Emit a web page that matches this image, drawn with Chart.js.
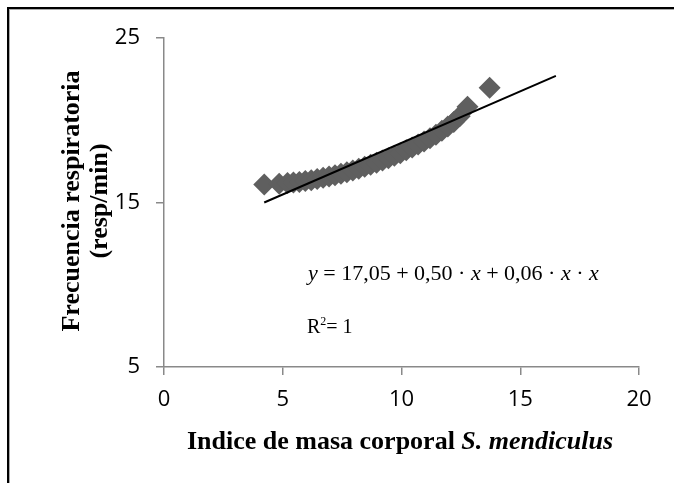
<!DOCTYPE html>
<html><head><meta charset="utf-8">
<script src="https://cdn.jsdelivr.net/npm/chart.js@4"></script>
<style>
html,body{margin:0;padding:0;background:#fff;}
#wrap{position:relative;width:674px;height:483px;overflow:hidden;}
#frame{position:absolute;left:7px;top:7px;width:700px;height:520px;border-top:2px solid #000;border-left:2px solid #000;box-shadow:1px 1px 0 #aaa inset;}
canvas{position:absolute;left:0;top:0;}
</style></head><body>
<div id="wrap"><canvas id="c" width="674" height="483"></canvas><div id="frame"></div></div>
<script>
// Data
const imcValues = [4.22, 4.85, 5.20, 5.45, 5.70, 5.95, 6.20, 6.45, 6.70, 6.95, 7.20, 7.45, 7.70, 7.95, 8.20, 8.45, 8.70, 8.95, 9.20, 9.45, 9.70, 9.95, 10.20, 10.45, 10.70, 10.95, 11.20, 11.45, 11.70, 11.95, 12.20, 12.45, 12.78, 13.71];
const frValues  = [16.09, 16.14, 16.18, 16.21, 16.25, 16.30, 16.36, 16.43, 16.50, 16.58, 16.66, 16.75, 16.84, 16.94, 17.05, 17.17, 17.29, 17.42, 17.55, 17.69, 17.84, 18.00, 18.17, 18.34, 18.52, 18.71, 18.91, 19.12, 19.36, 19.62, 19.90, 20.25, 20.82, 21.97];
const trendX = [4.22, 16.5];
const trendY = [15.0, 22.7];
const xTickValues = [0, 5, 10, 15, 20];
const yTickValues = [5, 15, 25];
const yTitleLines = ["Frecuencia respiratoria", "(resp/min)"];
const xTitleMain = "Indice de masa corporal ";
const xTitleItalic = "S. mendiculus";
const equationParts = [["y", true], [" = 17,05 + 0,50 · ", false], ["x", true], [" + 0,06 · ", false], ["x", true], [" · ", false], ["x", true]];
const r2Text = ["R", "2", "= 1"];

const axisGray = '#898989';
const textPlugin = {
  id: 'texts',
  afterDraw(chart) {
    const ctx = chart.ctx;
    ctx.save();
    ctx.fillStyle = '#000';
    // Y title
    ctx.font = 'bold 26px "Liberation Serif"';
    ctx.textAlign = 'center';
    ctx.textBaseline = 'middle';
    const yx = [72, 100];
    yTitleLines.forEach((t, i) => {
      ctx.save();
      ctx.translate(yx[i], 201);
      ctx.rotate(-Math.PI / 2);
      ctx.fillText(t, 0, 0);
      ctx.restore();
    });
    // X title (mixed style)
    ctx.textAlign = 'left';
    ctx.textBaseline = 'alphabetic';
    const f1 = 'bold 26px "Liberation Serif"', f2 = 'italic bold 26px "Liberation Serif"';
    ctx.font = f1; const w1 = ctx.measureText(xTitleMain).width;
    ctx.font = f2; const w2 = ctx.measureText(xTitleItalic).width;
    let sx = 400 - (w1 + w2) / 2;
    ctx.font = f1; ctx.fillText(xTitleMain, sx, 449);
    ctx.font = f2; ctx.fillText(xTitleItalic, sx + w1, 449);
    // Equation
    const fe = '22px "Liberation Serif"', fei = 'italic 22px "Liberation Serif"';
    let ex = 308;
    equationParts.forEach(([t, it]) => {
      ctx.font = it ? fei : fe;
      ctx.fillText(t, ex, 280);
      ex += ctx.measureText(t).width;
    });
    // R^2
    ctx.font = '20px "Liberation Serif"';
    let rx = 307;
    ctx.fillText(r2Text[0], rx, 333); rx += ctx.measureText(r2Text[0]).width;
    ctx.font = '12px "Liberation Serif"';
    ctx.fillText(r2Text[1], rx, 325); rx += ctx.measureText(r2Text[1]).width;
    ctx.font = '20px "Liberation Serif"';
    ctx.fillText(r2Text[2], rx, 333);
    ctx.restore();
  }
};

new Chart(document.getElementById('c'), {
  type: 'scatter',
  data: {
    datasets: [
      {
        data: trendX.map((x, i) => ({x, y: trendY[i]})),
        showLine: true, borderColor: '#000', borderWidth: 2,
        pointRadius: 0, order: 0
      },
      {
        data: imcValues.map((x, i) => ({x, y: frValues[i]})),
        pointStyle: 'rectRot', pointRadius: 11,
        backgroundColor: '#5f5f5f', borderColor: '#5f5f5f', borderWidth: 0, order: 1
      }
    ]
  },
  options: {
    responsive: false, animation: false,
    layout: {padding: {left: 0, right: 35, top: 38, bottom: 0}},
    plugins: {legend: {display: false}, tooltip: {enabled: false}},
    scales: {
      x: {
        type: 'linear', min: 0, max: 20,
        afterBuildTicks: s => { s.ticks = xTickValues.map(v => ({value: v})); },
        afterFit: s => { s.height = 116; },
        ticks: {color: '#000', padding: 12, font: {family: 'Open Sans', size: 22}},
        grid: {drawOnChartArea: false, drawTicks: true, tickLength: 8, color: axisGray, lineWidth: 1.5},
        border: {color: axisGray, width: 1.5}
      },
      y: {
        type: 'linear', min: 5, max: 25,
        afterBuildTicks: s => { s.ticks = yTickValues.map(v => ({value: v})); },
        afterFit: s => { s.width = 164; },
        ticks: {color: '#000', padding: 16, font: {family: 'Open Sans', size: 22}},
        grid: {drawOnChartArea: false, drawTicks: true, tickLength: 8, color: axisGray, lineWidth: 1.5},
        border: {color: axisGray, width: 1.5}
      }
    }
  },
  plugins: [textPlugin]
});
</script>
</body></html>
